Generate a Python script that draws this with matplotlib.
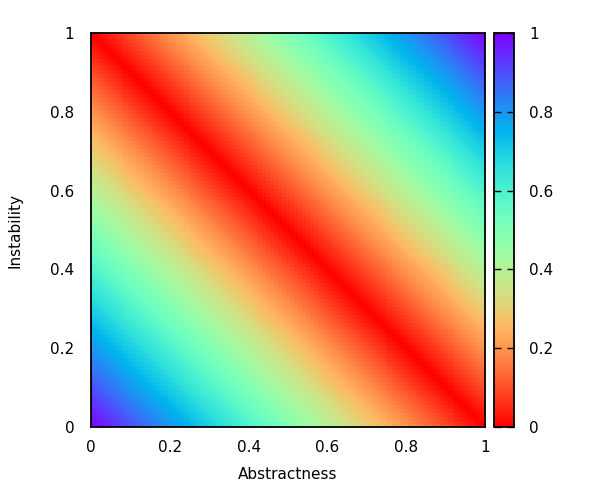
import numpy as np
import matplotlib
matplotlib.use("Agg")
import matplotlib.pyplot as plt

# Axis samples (grid of Abstractness / Instability)
abstractness = np.linspace(0, 1, 101)
instability = np.linspace(0, 1, 101)
tick_values = [0, 0.2, 0.4, 0.6, 0.8, 1]
tick_labels = ["0", "0.2", "0.4", "0.6", "0.8", "1"]

# Distance from the main sequence D = |A + I - 1|
A, I = np.meshgrid(abstractness, instability)
distance = np.abs(A + I - 1)

plt.rcParams['font.family'] = ['DejaVu Sans']
fig = plt.figure(figsize=(6, 5), dpi=100)
ax = fig.add_axes([91/600, 1-427/500, 394/600, 394/500])
cax = fig.add_axes([494/600, 1-427/500, 20/600, 394/500])

mesh = ax.pcolormesh(abstractness, instability, distance, cmap='rainbow_r',
                     vmin=0, vmax=1, shading='nearest', rasterized=True)
ax.set_xlim(0, 1)
ax.set_ylim(0, 1)
ax.set_xticks(tick_values)
ax.set_xticklabels(tick_labels)
ax.set_yticks(tick_values)
ax.set_yticklabels(tick_labels)
ax.tick_params(direction='in', length=0, labelsize=11, pad=9, colors='black')
ax.tick_params(axis='y', pad=12)
for s in ax.spines.values():
    s.set_linewidth(1.3)
ax.set_xlabel("Abstractness", fontsize=11, labelpad=9)
ax.set_ylabel("Instability", fontsize=11, labelpad=20)

cb = fig.colorbar(mesh, cax=cax)
cb.set_ticks(tick_values)
cb.set_ticklabels(tick_labels)
cax.tick_params(direction='in', length=5, width=1, labelsize=11, pad=11,
                left=True, right=True, colors='black')
cb.outline.set_linewidth(1.3)

fig.savefig("out.png", dpi=100)
